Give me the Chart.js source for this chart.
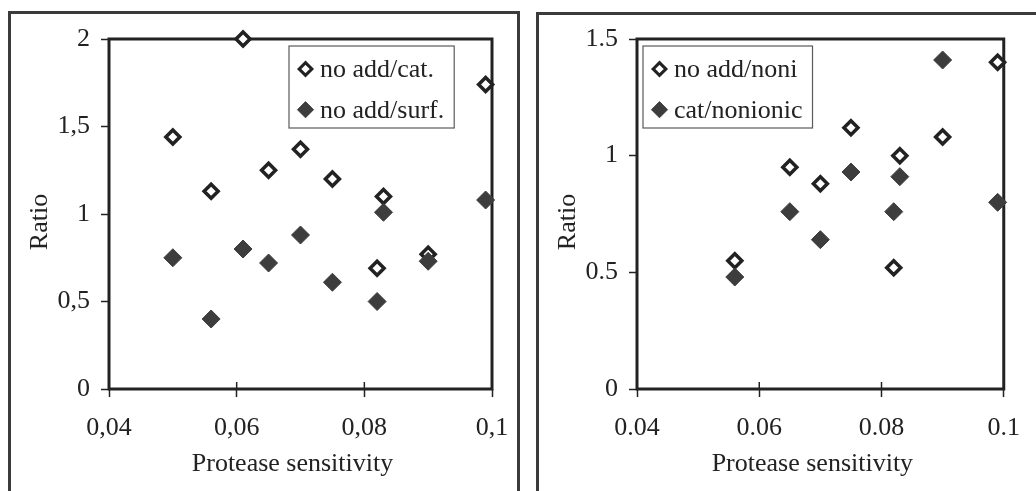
<!DOCTYPE html>
<html>
<head>
<meta charset="utf-8">
<script src="https://cdn.jsdelivr.net/npm/chart.js"></script>
<style>
  html, body { margin: 0; padding: 0; background: #fff; }
  body { width: 1036px; height: 491px; position: relative; overflow: hidden; }
  .panel { position: absolute; box-sizing: border-box; border: 3px solid #3b3b3b; }
  canvas { position: absolute; top: 0; }
</style>
</head>
<body>
<div class="panel" style="left:8px; top:11px; width:512px; height:520px;"></div>
<div class="panel" style="left:536px; top:12px; width:560px; height:520px;"></div>
<canvas id="left" width="528" height="491" style="left:0"></canvas>
<canvas id="right" width="508" height="491" style="left:528px"></canvas>
<script>
// Left panel: ratios against protease sensitivity
const sensA = [0.050, 0.056, 0.061, 0.065, 0.070, 0.075, 0.082, 0.083, 0.090, 0.099];
const noAddCat = [1.44, 1.13, 2.00, 1.25, 1.37, 1.20, 0.69, 1.10, 0.77, 1.74];
const noAddSurf = [0.75, 0.40, 0.80, 0.72, 0.88, 0.61, 0.50, 1.01, 0.73, 1.08];
const xTicksA = [0.04, 0.06, 0.08, 0.1];
const xLabelsA = ['0,04', '0,06', '0,08', '0,1'];
const yTicksA = [0, 0.5, 1, 1.5, 2];
const yLabelsA = ['0', '0,5', '1', '1,5', '2'];

// Right panel
const sensB = [0.056, 0.065, 0.070, 0.075, 0.082, 0.083, 0.090, 0.099];
const noAddNoni = [0.55, 0.95, 0.88, 1.12, 0.52, 1.00, 1.08, 1.40];
const catNonionic = [0.48, 0.76, 0.64, 0.93, 0.76, 0.91, 1.41, 0.80];
const xTicksB = [0.04, 0.06, 0.08, 0.1];
const xLabelsB = ['0.04', '0.06', '0.08', '0.1'];
const yTicksB = [0, 0.5, 1, 1.5];
const yLabelsB = ['0', '0.5', '1', '1.5'];

const INK = '#222';
const SOLID = '#3d3d3d';
const FONT = "'Liberation Serif', 'Times New Roman', serif";
const SIZE = 26;

const pts = (xs, ys) => xs.map((x, i) => ({ x, y: ys[i] }));

const openMarker = {
  pointStyle: 'rectRot', pointRadius: 7, pointBorderWidth: 3.5,
  pointBackgroundColor: '#fff', pointBorderColor: INK
};
const solidMarker = {
  pointStyle: 'rectRot', pointRadius: 9, pointBorderWidth: 1,
  pointBackgroundColor: SOLID, pointBorderColor: SOLID
};

// plot frame plus the short tick marks that point into the plot
const frame = {
  id: 'frame',
  beforeDatasetsDraw(chart) {
    const { ctx, chartArea: a, scales } = chart;
    ctx.save();
    ctx.strokeStyle = INK;
    ctx.lineWidth = 1.5;
    scales.x.ticks.forEach(t => {
      const px = scales.x.getPixelForValue(t.value);
      ctx.beginPath();
      ctx.moveTo(px, a.bottom);
      ctx.lineTo(px, a.bottom - 7);
      ctx.stroke();
    });
    ctx.lineWidth = 3;
    ctx.strokeRect(a.left, a.top, a.right - a.left, a.bottom - a.top);
    ctx.restore();
  }
};

const axisTitles = {
  id: 'axisTitles',
  afterDraw(chart, args, opts) {
    const { ctx, chartArea: a } = chart;
    ctx.save();
    ctx.fillStyle = INK;
    ctx.font = `${SIZE}px ${FONT}`;
    ctx.textAlign = 'center';
    ctx.textBaseline = 'alphabetic';
    ctx.fillText(opts.x, (a.left + a.right) / 2 - 8, a.bottom + 82);
    ctx.translate(a.left - 62, (a.top + a.bottom) / 2 + 8);
    ctx.rotate(-Math.PI / 2);
    ctx.fillText(opts.y, 0, 0);
    ctx.restore();
  }
};

// boxed legend sitting inside the plot
const boxLegend = {
  id: 'boxLegend',
  afterDraw(chart, args, opts) {
    const { ctx } = chart;
    const sets = chart.data.datasets;
    ctx.save();
    ctx.font = `${SIZE}px ${FONT}`;
    const textW = Math.max(...sets.map(d => ctx.measureText(d.label).width));
    const w = 31 + textW + 10, h = 82;
    const x0 = opts.left, y0 = opts.top;
    ctx.fillStyle = '#fff';
    ctx.fillRect(x0, y0, w, h);
    ctx.strokeStyle = '#5a5a5a';
    ctx.lineWidth = 1.2;
    ctx.strokeRect(x0, y0, w, h);
    sets.forEach((d, i) => {
      const cy = y0 + 23 + i * 40.7;
      ctx.fillStyle = d.pointBackgroundColor;
      ctx.strokeStyle = d.pointBorderColor;
      ctx.lineWidth = d.pointBorderWidth * 0.9;
      Chart.helpers.drawPoint(ctx, {
        pointStyle: d.pointStyle, rotation: 0,
        radius: d.pointRadius * 0.9, borderWidth: d.pointBorderWidth
      }, x0 + 16.5, cy);
      ctx.fillStyle = INK;
      ctx.textAlign = 'left';
      ctx.textBaseline = 'middle';
      ctx.fillText(d.label, x0 + 31, cy + 1);
    });
    ctx.restore();
  }
};

function axis(min, max, tickVals, tickLabels, fit, pad) {
  return {
    type: 'linear', min, max,
    afterBuildTicks: s => { s.ticks = tickVals.map(v => ({ value: v })); },
    afterFit: fit,
    ticks: {
      callback: (v, i) => tickLabels[i],
      color: INK, font: { family: FONT, size: SIZE },
      padding: pad, maxRotation: 0, autoSkip: false
    },
    grid: { drawOnChartArea: false, tickLength: 8, tickWidth: 1.5, tickColor: INK },
    border: { display: false }
  };
}

function ratioChart(id, sens, sets, xT, xL, yT, yL, yMax, padRight, legendAt) {
  return new Chart(document.getElementById(id), {
    type: 'scatter',
    data: {
      datasets: [
        Object.assign({ label: sets[0].label, data: pts(sens, sets[0].values), order: 1, clip: false }, openMarker),
        Object.assign({ label: sets[1].label, data: pts(sens, sets[1].values), order: 0, clip: false }, solidMarker)
      ]
    },
    options: {
      responsive: false,
      animation: false,
      devicePixelRatio: 1,
      layout: { padding: { left: 49, top: 39, right: padRight, bottom: 0 } },
      scales: {
        x: axis(0.04, 0.1, xT, xL, s => { s.height = 102; }, 16),
        y: axis(0, yMax, yT, yL, s => { s.width = 60; }, 11)
      },
      plugins: {
        legend: { display: false },
        tooltip: { enabled: false },
        axisTitles: { x: 'Protease sensitivity', y: 'Ratio' },
        boxLegend: legendAt
      }
    },
    plugins: [frame, axisTitles, boxLegend]
  });
}

ratioChart('left', sensA,
  [{ label: 'no add/cat.', values: noAddCat }, { label: 'no add/surf.', values: noAddSurf }],
  xTicksA, xLabelsA, yTicksA, yLabelsA, 2, 36, { left: 289, top: 46 });

ratioChart('right', sensB,
  [{ label: 'no add/noni', values: noAddNoni }, { label: 'cat/nonionic', values: catNonionic }],
  xTicksB, xLabelsB, yTicksB, yLabelsB, 1.5, 18, { left: 115, top: 46 });
</script>
</body>
</html>
